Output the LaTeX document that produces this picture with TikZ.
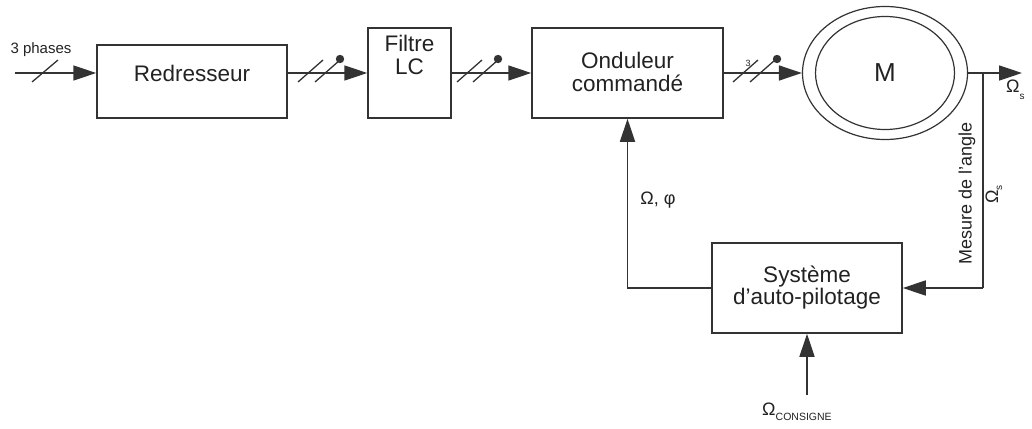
\documentclass[tikz,border=0pt]{standalone}
\usepackage{fontspec}
\setmainfont{Liberation Sans}
\usetikzlibrary{arrows.meta,shapes.geometric}
\definecolor{ink}{HTML}{333333}
\definecolor{txt}{HTML}{222222}
\tikzset{blk/.style={draw=ink,line width=1.5pt,inner sep=0pt},lab/.style={text=txt,align=center,inner sep=0pt,font=\fontsize{22.5}{23}\selectfont},small/.style={text=txt,inner sep=0pt,font=\fontsize{18}{20}\selectfont},arr/.style={draw=ink,line width=1.5pt,-{Triangle[length=23pt,width=15pt]}},slash/.style={draw=ink,line width=1.3pt}}
\begin{document}
\begin{tikzpicture}[x=1pt,y=-1pt]
\useasboundingbox (0,0) rectangle (1032,428);
\node[blk,minimum width=190pt,minimum height=73pt] (red) at (192,81.5) {};
\node[lab] (redt) at (192,73) {Redresseur};
\node[blk,minimum width=83pt,minimum height=90pt] (flt) at (409.5,73) {};
\node[lab] (fltt) at (409.5,55) {Filtre\\LC};
\node[blk,minimum width=191pt,minimum height=90pt] (ond) at (627.5,73) {};
\node[lab] (ondt) at (627.5,72) {Onduleur\\commandé};
\node[blk,ellipse,minimum width=165pt,minimum height=133pt,line width=1.2pt] (mot) at (885,73) {};
\node[blk,ellipse,minimum width=139pt,minimum height=113pt,line width=1.2pt] (moti) at (885,73) {};
\node[lab,font=\fontsize{26}{28}\selectfont] (m) at (885,73) {M};
\node[blk,minimum width=190pt,minimum height=90pt] (sys) at (807,288) {};
\node[lab,font=\fontsize{22.5}{22}\selectfont] (syst) at (807,288) {Système\\d’auto-pilotage};
\coordinate (in) at (15,73);
\coordinate (out) at (1022,73);
\coordinate (tap) at (983,73);
\coordinate (cons) at (807,395);
% power path
\draw[arr] (in) -- (red.west |- in);
\draw[arr] (red.east |- flt.west) -- (flt.west);
\foreach \a/\b in {flt/ond,ond/mot}{\draw[arr] (\a.east) -- (\b.west);}
\draw[arr] (mot.east) -- (out);
\draw[slash] (32,82) -- ++(26,-22);
\foreach \x in {298,315,457,473,733,750}{\draw[slash] (\x,82) -- ++(25,-22);}
\foreach \x in {340,498,777}{\fill[ink] (\x,59) circle (4.2pt);}
\node[text=txt,inner sep=0pt,font=\fontsize{15}{16}\selectfont] (ph) at (41,50) {3 phases};
\node[text=txt,inner sep=0pt,font=\fontsize{9}{9}\selectfont] (n3) at (748,63) {3};
% loop
\draw[ink,line width=1.5pt] (tap) -- (tap |- sys.east);
\draw[arr] (tap |- sys.east) -- (sys.east);
\draw[arr] (sys.west) -| (ond.south);
\draw[arr] (cons) -- (sys.south);
\node[small,anchor=base west] (os) at (1006,92) {Ω\raisebox{-7pt}{\fontsize{10}{10}\selectfont s}};
\node[small,rotate=90] (mes) at (967,193) {Mesure de l'angle};
\node[small,rotate=90,anchor=base west] (os2) at (998,204) {Ω\raisebox{-4pt}{\fontsize{10}{10}\selectfont s}};
\node[small] (phi) at (658,200) {Ω, φ};
\node[small,anchor=base west] (oc) at (762,415) {Ω\raisebox{-5pt}{\fontsize{10.5}{10}\selectfont CONSIGNE}};
\end{tikzpicture}
\end{document}
